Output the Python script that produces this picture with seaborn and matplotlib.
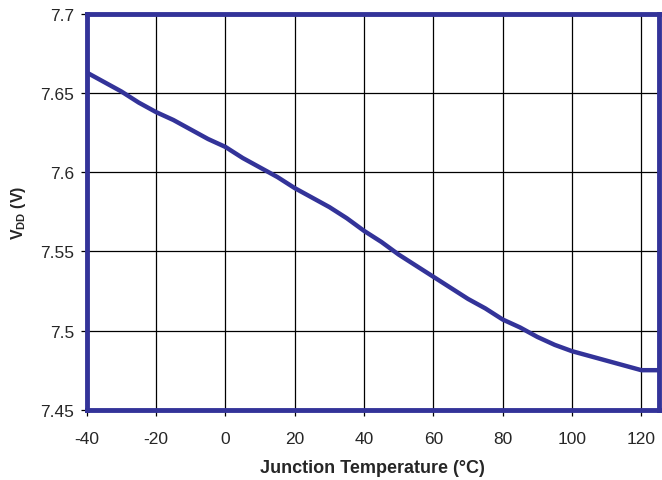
import matplotlib
matplotlib.use("Agg")
import matplotlib.pyplot as plt
import seaborn as sns
import pandas as pd

temperature = [-40, -35, -30, -25, -20, -15, -10, -5, 0, 5, 10, 15, 20, 25, 30, 35, 40, 45, 50,
               55, 60, 65, 70, 75, 80, 85, 90, 95, 100, 105, 110, 115, 120, 125]
vdd = [7.663, 7.657, 7.651, 7.644, 7.638, 7.633, 7.627, 7.621, 7.616, 7.609, 7.603, 7.597,
       7.590, 7.584, 7.578, 7.571, 7.563, 7.556, 7.548, 7.541, 7.534, 7.527, 7.520, 7.514,
       7.507, 7.502, 7.496, 7.491, 7.487, 7.484, 7.481, 7.478, 7.475, 7.475]
x_ticks = [-40, -20, 0, 20, 40, 60, 80, 100, 120]
y_ticks = [7.45, 7.5, 7.55, 7.6, 7.65, 7.7]
y_tick_labels = ["7.45", "7.5", "7.55", "7.6", "7.65", "7.7"]

sns.set_style("white")
plt.rcParams['font.family'] = ['Liberation Sans', 'DejaVu Sans']
plt.rcParams['mathtext.fontset'] = 'custom'
plt.rcParams['mathtext.rm'] = 'Liberation Sans'
plt.rcParams['mathtext.bf'] = 'Liberation Sans:bold'

navy = "#333399"
df = pd.DataFrame({"T": temperature, "V": vdd})

fig = plt.figure(figsize=(6.62, 4.81), dpi=100)
ax = fig.add_axes([0.131, 0.146, 0.864, 0.823])
sns.lineplot(data=df, x="T", y="V", ax=ax, color=navy, linewidth=3.2, zorder=3)

ax.set_xlim(-40, 125)
ax.set_ylim(7.45, 7.7)
ax.set_xticks(x_ticks)
ax.set_xticklabels([str(t) for t in x_ticks])
ax.set_yticks(y_ticks)
ax.set_yticklabels(y_tick_labels)
ax.grid(True, color="black", linewidth=0.9)
ax.tick_params(axis="both", direction="out", length=4, width=0.9, color="black",
               labelsize=12.5, bottom=True, left=True)
ax.tick_params(axis="x", pad=11)
ax.tick_params(axis="y", pad=5)
for s in ax.spines.values():
    s.set_color(navy)
    s.set_linewidth(3.5)
    s.set_zorder(4)

ax.set_xlabel("Junction Temperature (°C)", fontsize=13, fontweight="bold", labelpad=10)
ax.set_ylabel(r"$\mathbf{V_{DD}}$ (V)", fontsize=11.5, fontweight="bold", labelpad=9)

fig.savefig("out.png", dpi=100)
